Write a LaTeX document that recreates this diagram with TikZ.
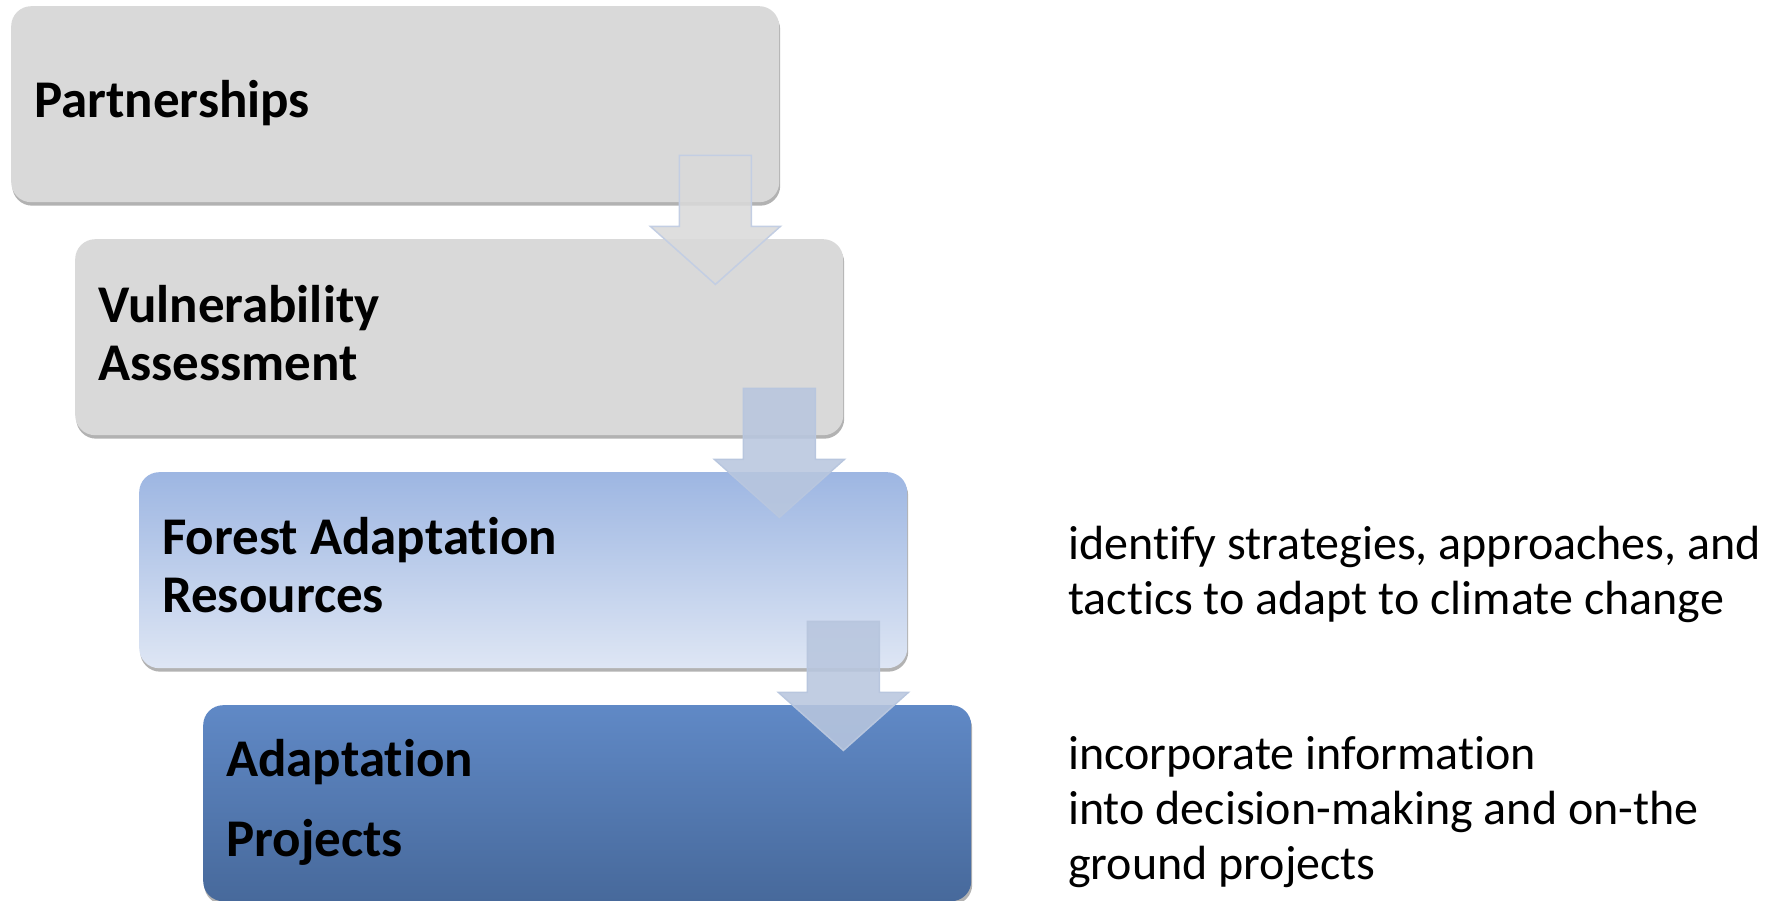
\documentclass[tikz,border=0pt]{standalone}
\usepackage{fontspec}
\setmainfont{Carlito}[Ligatures=NoCommon]
\usetikzlibrary{calc,positioning,shadows}
\definecolor{boxgray}{HTML}{D9D9D9}
\definecolor{arrowblue}{HTML}{B8C6DE}
\definecolor{arrowline}{HTML}{C3CEE3}
\definecolor{lighttop}{HTML}{9DB6E2}
\definecolor{lightbot}{HTML}{DEE6F4}
\definecolor{darktop}{HTML}{6089C6}
\definecolor{darkbot}{HTML}{47699B}

\begin{document}
\begin{tikzpicture}[x=1pt,y=1pt,
  stage/.style={rounded corners=20pt, minimum width=768pt, minimum height=196pt, inner sep=0pt, anchor=north west,
    drop shadow={shadow xshift=1pt, shadow yshift=-3.5pt, opacity=0.3, fill=black}},
  stagetext/.style={anchor=base west, inner sep=0pt, align=left, font=\bfseries\fontsize{53}{58}\selectfont},
  note/.style={anchor=base west, inner sep=0pt, align=left, font=\fontsize{48}{55}\selectfont}]
\useasboundingbox (0,0) rectangle (1779,901);
\node[stage, fill=boxgray] (s1) at (11,895){};
\node[stage, fill=boxgray] (s2) at (75,662){};
\node[stage, top color=lighttop, bottom color=lightbot] (s3) at (139,429){};
\node[stage, top color=darktop, bottom color=darkbot] (s4) at (203,196){};
\node[stagetext] (t1) at ($(s1.north west)+(23,-112)$){Partnerships};
\node[stagetext] (t2) at ($(s2.north west)+(23,-142)$){Vulnerability\\Assessment};
\node[stagetext] (t3) at ($(s3.north west)+(23,-141)$){Forest Adaptation\\Resources};
\node[stagetext, font=\bfseries\fontsize{53}{80}\selectfont] (t4) at ($(s4.north west)+(23,-152)$){Adaptation\\Projects};
\node[note] (n1) at (1068,286){identify strategies, approaches, and\\tactics to adapt to climate change};
\node[note] (n2) at (1068,21){incorporate information\\into decision-making and on-the\\ground projects};
\foreach \i/\f/\d in {1/boxgray/arrowline,2/arrowblue/arrowblue,3/arrowblue/arrowblue}
  \draw[fill=\f, fill opacity=0.88, draw=\d, line width=1.5pt]
    ($(s\i.south east)+(-100,47)$) -- ++(72,0) -- ++(0,-71) -- ++(29,0)
    -- ($(s\i.south east)+(-64,-82)$) -- ++(-65,58) -- ++(29,0) -- cycle;
\end{tikzpicture}
\end{document}
